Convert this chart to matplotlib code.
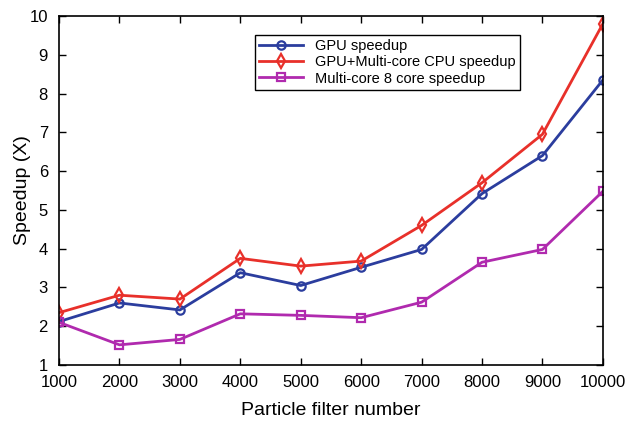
import matplotlib
matplotlib.use("Agg")
import matplotlib.pyplot as plt

plt.rcParams['font.family'] = ['Liberation Sans', 'DejaVu Sans']

particles = [1000, 2000, 3000, 4000, 5000, 6000, 7000, 8000, 9000, 10000]
gpu = [2.12, 2.6, 2.42, 3.38, 3.05, 3.52, 3.98, 5.42, 6.4, 8.35]
gpu_multi = [2.35, 2.8, 2.7, 3.75, 3.55, 3.68, 4.6, 5.7, 6.95, 9.8]
multi8 = [2.1, 1.52, 1.66, 2.32, 2.28, 2.22, 2.62, 3.65, 3.98, 5.48]

fig = plt.figure(figsize=(6.28, 4.21), dpi=100)
ax = fig.add_axes([0.094, 0.133, 0.866, 0.829])

ax.plot(particles, gpu, '-o', color='#2b3d9e', lw=2, ms=6, mfc='none', mew=1.6,
        label='GPU speedup')
ax.plot(particles, gpu_multi, '-d', color='#e8302a', lw=2, ms=7, mfc='none', mew=1.6,
        label='GPU+Multi-core CPU speedup')
ax.plot(particles, multi8, '-s', color='#b02aae', lw=2, ms=6, mfc='none', mew=1.6,
        label='Multi-core 8 core speedup')

ax.set_xlim(1000, 10000)
ax.set_ylim(1, 10)
ax.set_xticks(particles)
ax.set_yticks(range(1, 11))
ax.tick_params(direction='in', top=True, right=True, labelsize=12, length=5, width=1)
ax.tick_params(axis='x', pad=7)
ax.tick_params(axis='y', pad=8)
for s in ax.spines.values():
    s.set_linewidth(1.2)
ax.set_xlabel('Particle filter number', fontsize=14, labelpad=9)
ax.set_ylabel('Speedup (X)', fontsize=14, labelpad=-1)

leg = ax.legend(loc='upper left', bbox_to_anchor=(0.36, 0.946), borderaxespad=0,
                fontsize=10.5, fancybox=False, framealpha=1, edgecolor='black',
                borderpad=0.3, labelspacing=0.15, handlelength=3)
leg.get_frame().set_linewidth(1)

fig.savefig('out.png', dpi=100)
